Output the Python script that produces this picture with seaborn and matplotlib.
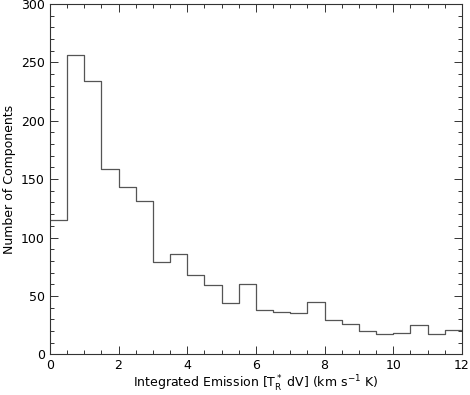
import numpy as np
import pandas as pd
import seaborn as sns
import matplotlib.pyplot as plt
from matplotlib.ticker import MultipleLocator

# bin edges (width 0.5) and counts
bin_edges = np.arange(0, 12.01, 0.5)
counts = [115, 256, 234, 159, 143, 131, 79, 86, 68, 59, 44, 60,
          38, 36, 35, 45, 29, 26, 20, 17, 18, 25, 17, 21]

bin_centers = (bin_edges[:-1] + bin_edges[1:]) / 2
df = pd.DataFrame({"emission": bin_centers, "n": counts})

sns.set_style("ticks")
plt.rcParams["font.family"] = ["DejaVu Sans"]
plt.rcParams["mathtext.fontset"] = "dejavusans"

fig = plt.figure(figsize=(4.7, 3.95), dpi=100)
ax = fig.add_axes([0.106, 0.103, 0.877, 0.887])

sns.histplot(data=df, x="emission", weights="n", binwidth=0.5,
             binrange=(bin_edges[0], bin_edges[-1]),
             element="step", fill=False, color="#555555", linewidth=0.9, ax=ax)

ax.set_xlim(0, 12)
ax.set_ylim(0, 300)
ax.xaxis.set_major_locator(MultipleLocator(2))
ax.xaxis.set_minor_locator(MultipleLocator(0.5))
ax.yaxis.set_major_locator(MultipleLocator(50))
ax.yaxis.set_minor_locator(MultipleLocator(10))
ax.tick_params(which="both", direction="in", top=True, right=True,
               labelsize=9, width=0.7, color="#333333", labelcolor="black")
ax.tick_params(which="major", length=6)
ax.tick_params(which="minor", length=3)
for s in ax.spines.values():
    s.set_linewidth(0.8)
    s.set_color("#333333")

ax.set_xlabel(r"Integrated Emission [$\mathrm{T_R^*}$ dV] (km s$^{-1}$ K)",
              fontsize=9, labelpad=1, color="black")
ax.set_ylabel("Number of Components", fontsize=9, labelpad=4, color="black")

fig.savefig("out.png", dpi=100)
